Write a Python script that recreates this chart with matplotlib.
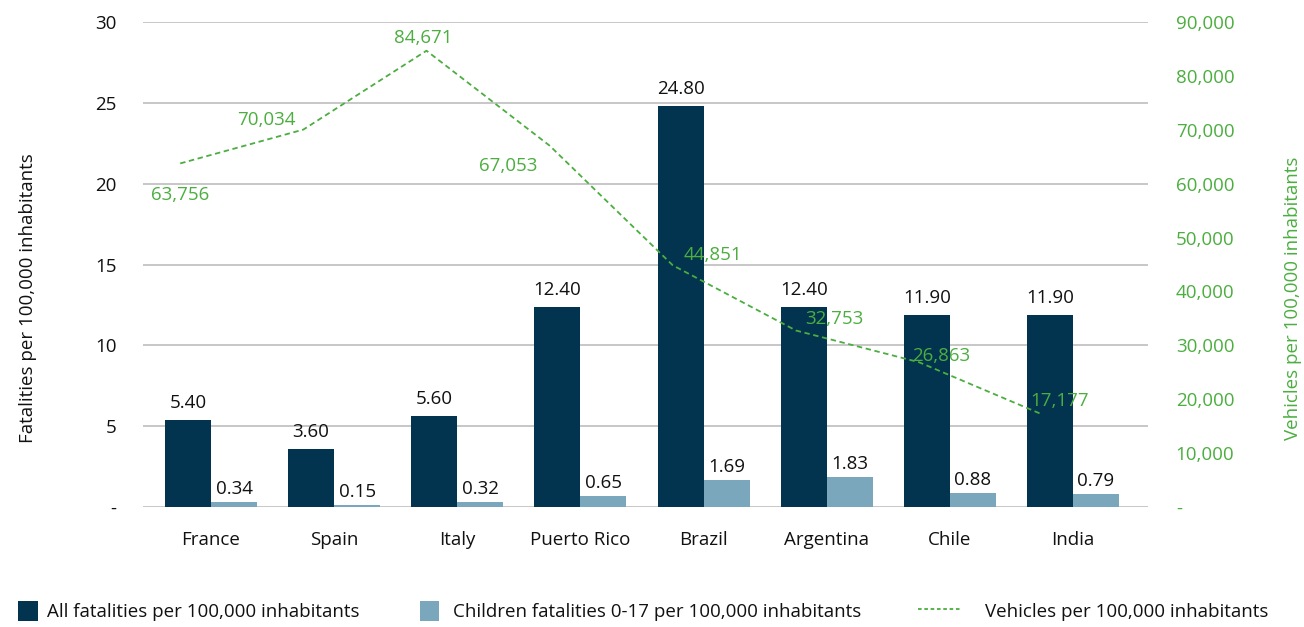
import matplotlib
matplotlib.use("Agg")
import matplotlib.pyplot as plt
import numpy as np
from matplotlib.patches import Patch
from matplotlib.lines import Line2D

countries = ["France", "Spain", "Italy", "Puerto Rico", "Brazil", "Argentina", "Chile", "India"]
all_fatalities = [5.40, 3.60, 5.60, 12.40, 24.80, 12.40, 11.90, 11.90]
child_fatalities = [0.34, 0.15, 0.32, 0.65, 1.69, 1.83, 0.88, 0.79]
vehicles = [63756, 70034, 84671, 67053, 44851, 32753, 26863, 17177]

left_ticks = [0, 5, 10, 15, 20, 25, 30]
left_ticklabels = ["-", "5", "10", "15", "20", "25", "30"]
right_ticks = [0, 10000, 20000, 30000, 40000, 50000, 60000, 70000, 80000, 90000]
right_ticklabels = ["-", "10,000", "20,000", "30,000", "40,000", "50,000", "60,000", "70,000", "80,000", "90,000"]

legend_labels = ["All fatalities per 100,000 inhabitants",
                 "Children fatalities 0-17 per 100,000 inhabitants",
                 "Vehicles per 100,000 inhabitants"]

DARK = "#03344F"
LIGHT = "#7BA7BD"
GREEN = "#4BAE3F"
GRID = "#BDBDBD"
TXT = "#111111"
FS = 13.5

plt.rcParams['font.family'] = ['Open Sans', 'DejaVu Sans']

fig = plt.figure(figsize=(13.04, 6.27), dpi=100)
ax = fig.add_axes([143/1304, 1 - 507/627, (1148 - 143)/1304, (507 - 22)/627])
ax2 = ax.twinx()

x = np.arange(len(countries))
w = 0.374
ax.bar(x - w/2, all_fatalities, width=w, color=DARK, zorder=3)
ax.bar(x + w/2, child_fatalities, width=w, color=LIGHT, zorder=3)

for xi, v in zip(x, all_fatalities):
    ax.annotate(f"{v:.2f}", (xi - w/2, v), xytext=(0, 8), textcoords="offset pixels",
                ha="center", va="bottom", fontsize=FS, color=TXT)
for xi, v in zip(x, child_fatalities):
    ax.annotate(f"{v:.2f}", (xi + w/2, v), xytext=(0, 4), textcoords="offset pixels",
                ha="center", va="bottom", fontsize=FS, color=TXT)

ax.set_xlim(-0.552, 7.609)
ax.set_ylim(0, 30)
ax.set_yticks(left_ticks)
ax.set_yticklabels(left_ticklabels)
ax.set_xticks(x)
ax.set_xticklabels(countries)
ax.tick_params(axis="x", length=0, pad=17, labelsize=FS, labelcolor=TXT)
ax.tick_params(axis="y", length=0, pad=19, labelsize=FS, labelcolor=TXT)
ax.grid(axis="y", color=GRID, linewidth=1.2, zorder=0)
ax.set_axisbelow(True)
for s in ax.spines.values():
    s.set_visible(False)
ax.set_ylabel("Fatalities per 100,000 inhabitants", fontsize=FS, color=TXT)
ax.yaxis.set_label_coords(-(143 - 37)/1005, 0.43)

line_shift = -0.25
ax2.plot(x + line_shift, vehicles, color=GREEN, linewidth=1.3, linestyle=(0, (3, 2)), zorder=4)
label_offsets = [(0, -32), (-37, 10), (-3, 13), (-41, -20), (40, 10), (38, 11), (22, 6), (17, 13)]
for xi, v, (dx, dy) in zip(x, vehicles, label_offsets):
    ax2.annotate(f"{v:,}", (xi + line_shift, v), xytext=(dx, dy), textcoords="offset pixels",
                 ha="center", va="center", fontsize=FS, color=GREEN)
ax2.set_ylim(0, 90000)
ax2.set_yticks(right_ticks)
ax2.set_yticklabels(right_ticklabels)
ax2.tick_params(axis="y", length=0, pad=20, labelsize=FS, labelcolor=GREEN)
for s in ax2.spines.values():
    s.set_visible(False)
ax2.set_ylabel("Vehicles per 100,000 inhabitants", fontsize=FS, color=GREEN)
ax2.yaxis.set_label_coords(1 + (1284 - 1148)/1005, 0.43)

handles = [Patch(facecolor=DARK, edgecolor="none"),
           Patch(facecolor=LIGHT, edgecolor="none"),
           Line2D([0], [0], color=GREEN, linewidth=1.3, linestyle=(0, (2, 1.5)))]
anchors = [18/1304, 420/1304, 918/1304]
hlens = [1.07, 1.0, 2.25]
hpads = [0.5, 0.75, 1.3]
for h, lab, a, hl, hp in zip(handles, legend_labels, anchors, hlens, hpads):
    leg = fig.legend([h], [lab], loc="center left", bbox_to_anchor=(a, 1 - 611/627),
                     frameon=False, fontsize=FS, handlelength=hl, handleheight=1.3,
                     handletextpad=hp, borderpad=0, borderaxespad=0)
    for t in leg.get_texts():
        t.set_color(TXT)

fig.savefig("out.png", dpi=100)
